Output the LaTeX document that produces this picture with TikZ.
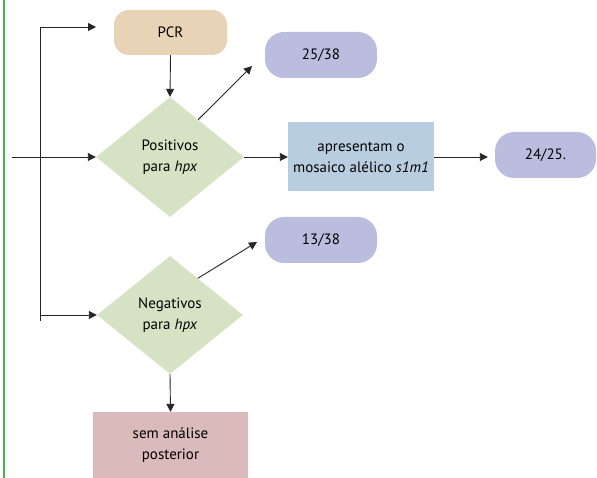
\documentclass[tikz,border=0pt]{standalone}
\usepackage{fontspec}
\setmainfont{PT Sans}
\usetikzlibrary{arrows.meta,shapes.geometric,calc}
\definecolor{bege}{HTML}{E8D3B6}
\definecolor{verde}{HTML}{D5E3C4}
\definecolor{azul}{HTML}{B9CDE1}
\definecolor{lilas}{HTML}{BABDDE}
\definecolor{rosa}{HTML}{DABABA}
\definecolor{margem}{HTML}{3DB54A}
\tikzstyle{pill}=[fill=lilas,rounded corners=19pt,minimum width=112pt,minimum height=46pt,inner sep=0pt]
\tikzstyle{decision}=[diamond,fill=verde,aspect=1.23,minimum width=148pt,minimum height=120pt,inner sep=0pt,align=center]
\tikzstyle{box}=[rectangle,inner sep=0pt,align=center]
\tikzstyle{edge}=[draw,line width=0.9pt,black!85,-{Triangle[length=8pt,width=8pt]}]

\begin{document}
\begin{tikzpicture}[x=1pt,y=-1pt,font=\fontsize{15}{21}\selectfont]
				\useasboundingbox (0,0) rectangle (597,478);
				\draw[margem,line width=2pt] (4,0) -- (4,478);

				% First we draw the boxes
				\node[pill,fill=bege,minimum width=113pt,minimum height=45pt,rounded corners=15pt] (pcr) at (170.5,32.5) {PCR};
				\node[decision] (pos) at (170,157) {Positivos\\para \textit{hpx}};
				\node[decision,minimum width=146pt,minimum height=118pt] (neg) at (170,315) {Negativos\\para \textit{hpx}};
				\node[box,fill=azul,minimum width=146pt,minimum height=69pt] (mos) at (361,157) {apresentam o\\mosaico alélico \textit{s1m1}};
				\node[box,fill=rosa,minimum width=155pt,minimum height=66pt] (sem) at (170.5,445) {sem análise\\posterior};

				% the counts
				\node[pill] (p38) at (321,55) {25/38};
				\node[pill] (n38) at (321,240) {13/38};
				\node[pill,minimum width=101pt] (p25) at (545.5,155) {24/25.};

				% free ends of the connectors
				\coordinate (pcrin) at (96,27);
				\coordinate (brk) at (40,321);
				\coordinate (entra) at (12,157);
				\coordinate (p38in) at (252,66);
				\coordinate (n38in) at (257,242);

				% Connect boxes with edges
				\foreach \source/ \dest in {pcr.south/pos.north, pos.east/mos.west, neg.south/sem.north, entra/pos.west}
				\path[edge] (\source) -- (\dest);
				\path[edge,shorten >=7pt] (mos.east) -- (mos.east -| p25.west);
				\path[edge] ($(pos.north)!0.38!(pos.east)$) -- (p38in);
				\path[edge] ($(neg.north)!0.38!(neg.east)$) -- (n38in);
				\path[edge] (brk) |- (pcrin);
				\path[edge] (brk) |- (neg.west);
			\end{tikzpicture}
\end{document}
